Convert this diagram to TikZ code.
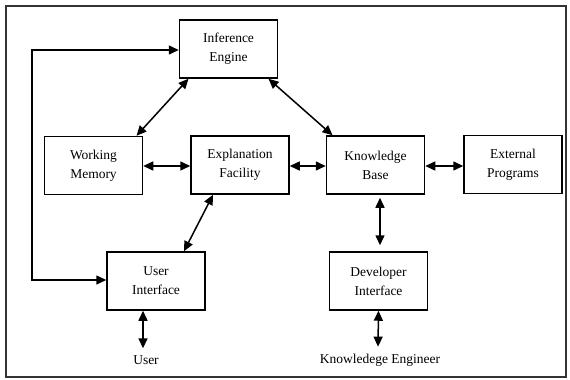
\documentclass[tikz,border=0pt]{standalone}
\usepackage{fontspec}
\setmainfont{Liberation Serif}
\usetikzlibrary{arrows.meta}
\begin{document}
\begin{tikzpicture}[x=1pt,y=-1pt,
  box/.style={draw, line width=1.5pt, minimum width=98pt, minimum height=58pt, inner sep=0pt,
    align=center, font=\fontsize{13.5}{19}\selectfont},
  lbl/.style={inner sep=0pt, font=\fontsize{13.5}{19}\selectfont},
  dbl/.style={{Triangle[length=10pt,width=9pt]}-{Triangle[length=10pt,width=9pt]}, line width=1.5pt},
  sgl/.style={-{Triangle[length=10pt,width=9pt]}, line width=1.5pt}]
\useasboundingbox (0,0) rectangle (570,380);
\draw[line width=2pt, black!80] (6,6) rectangle (566,377);
\node[box] (ie) at (228.5,49) {Inference\\Engine};
\node[box] (wm) at (93.5,165.5) {Working\\Memory};
\node[box] (ef) at (240,165) {Explanation\\Facility};
\node[box] (kb) at (375.5,165) {Knowledge\\Base};
\node[box] (ep) at (513,164.5) {External\\Programs};
\node[box] (ui) at (156,281) {User\\Interface};
\node[box] (di) at (378.5,281) {Developer\\Interface};
\node[lbl] (user) at (146,360) {User};
\node[lbl] (ke) at (380,360) {Knowledege Engineer};
\coordinate (lt) at (32,50);
\coordinate (lb) at (32,280);
% left loop
\draw[sgl] (lb) -- (lt) -- (ie.west |- lt);
\draw[sgl] (lt) -- (lb) -- (ui.west |- lb);
% diagonals
\draw[dbl] ([xshift=-40pt]ie.south) -- ([xshift=43pt]wm.north);
\draw[dbl] ([xshift=40pt]ie.south) -- ([xshift=-43pt]kb.north);
\draw[dbl] ([xshift=-27pt]ef.south) -- ([xshift=28pt]ui.north);
% horizontals
\draw[dbl] (wm.east |- 0,166) -- (ef.west |- 0,166);
\draw[dbl] (ef.east |- 0,166) -- (kb.west |- 0,166);
\draw[dbl] (kb.east |- 0,166) -- (ep.west |- 0,166);
% verticals
\draw[dbl] ([xshift=4.5pt,yshift=-3pt]kb.south) -- ([xshift=1.5pt,yshift=6pt]di.north);
\draw[dbl] ([xshift=-13pt]ui.south) -- ([xshift=-3pt,yshift=7pt]user.north);
\draw[dbl] (di.south) -- ([xshift=-2pt,yshift=7pt]ke.north);
\end{tikzpicture}
\end{document}
